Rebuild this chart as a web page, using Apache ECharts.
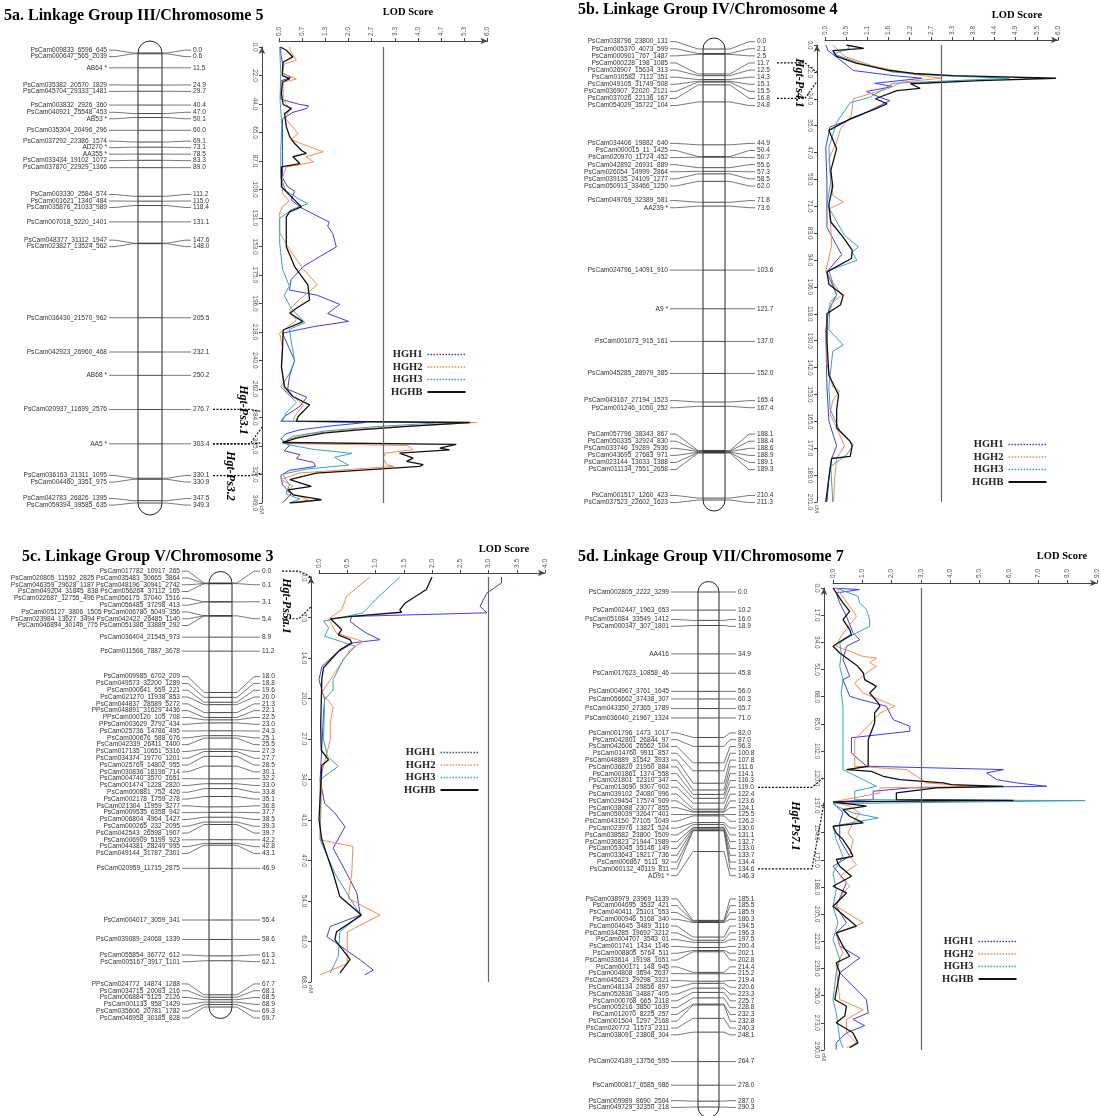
<!DOCTYPE html>
<html>
<head>
<meta charset="utf-8">
<script src="https://cdn.jsdelivr.net/npm/echarts/dist/echarts.min.js"></script>
<style>
  html, body { margin: 0; padding: 0; background: #fff; }
  #chart { width: 1101px; height: 1116px; }
</style>
</head>
<body>
<div id="chart"></div>
<script>
// LG III / Chr 5 (panel 5a)
const lgIIINames = ['PsCam009833_6596_645', 'PsCam000647_565_2039', 'AB64 *', 'PsCam035382_20570_1829', 'PsCam045704_29333_1481', 'PsCam003832_2926_360', 'PsCam040921_25548_453', 'AB53 *', 'PsCam035304_20496_296', 'PsCam037292_22386_1574', 'AD270 *', 'AA355 *', 'PsCam033434_19102_1072', 'PsCam037870_22929_1366', 'PsCam003330_2584_574', 'PsCam001621_1340_484', 'PsCam035876_21033_989', 'PsCam007018_5220_1401', 'PsCam048377_31112_1947', 'PsCam023827_13524_562', 'PsCam036430_21570_962', 'PsCam042923_26960_468', 'AB68 *', 'PsCam020937_11699_2576', 'AA5 *', 'PsCam036163_21311_1095', 'PsCam004460_3351_975', 'PsCam042783_26826_1395', 'PsCam059394_39585_635'];
const lgIIIPos = [0.0, 0.6, 11.5, 24.9, 29.7, 40.4, 47.0, 50.1, 60.0, 69.1, 73.1, 78.5, 83.3, 89.0, 111.2, 115.0, 118.4, 131.1, 147.6, 148.0, 205.5, 232.1, 250.2, 276.7, 303.4, 330.1, 330.9, 347.5, 349.3];
// LOD curves: [cM, LOD]
const lgIIIHGH1 = [[0,0.05],[5,0.05],[12,0.1],[20,0.1],[23,0.35],[26,0.05],[40,0.05],[44,0.6],[45,0.85],[47,0.8],[48.5,0.85],[50,0.4],[55,0.1],[80,0.1],[100,0.1],[107,0.25],[110.5,0.45],[117,0.35],[122.5,0.6],[128,1.0],[134,1.45],[137,1.4],[143,1.55],[153,1.65],[160,1.2],[168,0.7],[178,0.35],[186,0.3],[190,1.1],[197,1.75],[204,1.4],[210,2.0],[214,1.0],[219,0.1],[228,0.25],[240,0.45],[252,0.3],[262,0.25],[268,0.8],[275,0.6],[283,0.15],[286.4,0.05],[287.4,2.5],[290,1.5],[293,0.6],[296,0.2],[300,0.05],[305,0.3],[309,0.15],[312,0.6],[315,0.5],[318,1.0],[321,1.05],[324,0.3],[328,0.05],[335,0.1],[342,0.35],[349,0.1]];
const lgIIIHGH2 = [[0,0.3],[4,0.35],[10,0.5],[13,0.15],[20,0.1],[24.5,0.5],[27,0.12],[40,0.12],[47,0.3],[55,0.2],[66.3,0.55],[71,0.35],[80.2,1.27],[84,0.78],[88,1.0],[92,0.2],[100,0.1],[112,0.1],[118,0.3],[122,0.1],[127,0.02],[142,0.02],[155,0.3],[170,0.7],[182,1.1],[193,0.6],[201,0.3],[209,0.5],[219,0.02],[230,0.1],[245,0.07],[262,0.15],[274,0.7],[283,0.45],[286.4,0.4],[287.4,5.7],[290.5,3.4],[293,2.0],[296,0.9],[300,0.3],[303.5,0.15],[305,3.7],[308.3,3.85],[310.8,3.05],[314.6,3.0],[319.7,3.1],[321,3.3],[326,0.6],[331,0.05],[336,0.4],[340,0.2],[346.5,0.84],[349,0.5]];
const lgIIIHGH3 = [[0,0.02],[20,0.05],[40,0.03],[60,0.08],[80,0.05],[100,0.05],[110,0.2],[116,0.55],[120,0.83],[124,0.4],[131,0.02],[150,0.02],[170,0.1],[183,0.3],[190,0.15],[200,0.35],[211,0.75],[216,0.3],[225,0.35],[240,0.45],[250,0.3],[260,0.05],[272,0.5],[280,0.2],[286.4,0.1],[287.4,4.8],[290.5,2.8],[294,1.3],[298,0.4],[303,0.1],[305,0.4],[308,1.0],[311,2.1],[314,1.6],[317,1.8],[320,2.0],[323,0.8],[327,0.1],[335,0.3],[342,0.2],[346,0.6],[349,0.3]];
const lgIIIHGHB = [[0,0.04],[2.5,0.21],[7.6,0.4],[11.5,0.12],[17.8,0.1],[21.9,0.1],[24.2,0.31],[26.8,0.1],[35.7,0.07],[44,0.12],[47.1,0.36],[51,0.16],[61,0.21],[68.8,0.31],[73.9,0.45],[79,0.64],[81.5,0.79],[84,0.4],[89.2,0.6],[91.7,0.07],[107,0.07],[110.8,0.21],[117.2,0.45],[122.3,0.64],[126,0.31],[130,0.21],[140,0.21],[152.9,0.21],[168,0.45],[182,0.83],[193.6,0.88],[200,0.5],[203.8,0.31],[210.2,0.69],[216.6,0.12],[231.8,0.1],[244.6,0.07],[259.9,0.16],[267.5,0.4],[273.9,0.88],[282.8,0.55],[286.4,0.5],[287.4,5.49],[290.5,3.6],[293,2.3],[295.5,1.27],[299.4,0.5],[302.7,0.1],[304.2,5.1],[307,4.63],[308.3,4.91],[310.8,3.47],[314.6,3.86],[317.2,3.67],[319.7,4.15],[321,4.05],[326.1,1.07],[331.2,0.31],[336.3,0.93],[338.9,0.26],[342.7,0.4],[346.5,1.22],[349,0.31]];

// LG IV / Chr 4 (panel 5b)
const lgIVNames = ['PsCam038796_23800_131', 'PsCam005370_4073_599', 'PsCam000901_767_1487', 'PsCam000228_198_1085', 'PsCam026907_15634_313', 'PsCam010582_7112_351', 'PsCam049105_31749_508', 'PsCam036907_22020_2121', 'PsCam037026_22136_167', 'PsCam054029_35722_104', 'PsCam034406_19882_640', 'PsCam000015_11_1425', 'PsCam020970_11724_452', 'PsCam042892_26931_889', 'PsCam026054_14999_2864', 'PsCam039135_24109_1277', 'PsCam050913_33466_1250', 'PsCam049769_32389_581', 'AA239 *', 'PsCam024796_14091_910', 'A9 *', 'PsCam001073_915_161', 'PsCam045285_28979_385', 'PsCam043167_27194_1523', 'PsCam001246_1050_252', 'PsCam057796_38343_867', 'PsCam050335_32924_830', 'PsCam033746_19289_2936', 'PsCam043695_27683_971', 'PsCam023144_13033_1388', 'PsCam011134_7551_2658', 'PsCam001517_1260_423', 'PsCam037523_22602_1623'];
const lgIVPos = [0.0, 2.1, 2.5, 11.7, 12.5, 14.3, 15.1, 15.5, 16.8, 24.8, 44.9, 50.4, 50.7, 55.6, 57.3, 58.5, 62.0, 71.8, 73.6, 103.6, 121.7, 137.0, 152.0, 165.4, 167.4, 188.1, 188.4, 188.6, 188.9, 189.1, 189.3, 210.4, 211.3];
const lgIVHGH1 = [[0,0.02],[2.5,0.08],[6,0.35],[11.2,0.73],[13.5,1.8],[14.6,2.5],[16.8,1.28],[18.2,1.75],[20.4,1.07],[22.9,1.4],[24.4,1.67],[31,0.9],[36,0.13],[45,0.02],[60,0.05],[80,0.05],[88,0.3],[92,0.43],[99.6,0.05],[109.8,0.3],[116,0.1],[125,0.02],[150,0.05],[165,0.1],[176,0.3],[181.5,0.17],[190,0.1],[200.6,0.05]];
const lgIVHGH2 = [[0,0.2],[2.5,0.35],[5,0.5],[9,1.2],[12.7,2.2],[14.6,3.0],[16.2,2.0],[19.3,1.6],[21.5,1.15],[23.6,0.73],[31,0.68],[36.8,0.4],[42.6,0.3],[50,0.1],[60,0.15],[66,0.2],[69,0.47],[72,0.1],[80,0.15],[88,0.17],[99.6,0.02],[109.8,0.43],[113,0.2],[120,0.05],[140,0.05],[150,0.2],[152,0.38],[156,0.2],[162,0.13],[170,0.35],[176,0.5],[181.5,0.3],[190,0.25],[200.6,0.22]];
const lgIVHGH3 = [[0,0.6],[1.5,0.62],[3.9,0.22],[8,0.9],[11.9,1.75],[13.5,3.0],[14.6,4.75],[16.8,1.75],[19.5,1.5],[23,1.15],[25.3,0.65],[34,0.3],[45,0.1],[60,0.15],[70,0.05],[83.5,0.5],[88.6,0.86],[91,0.7],[94.5,0.82],[99,0.1],[109.8,0.3],[113,0.13],[125,0.1],[131.7,0.47],[134.5,0.2],[150,0.1],[160,0.13],[170,0.4],[175.5,0.73],[180,0.55],[185,0.15],[200.6,0.2]];
const lgIVHGHB = [[0,0.55],[1.5,1.0],[2.5,0.2],[5,0.3],[8,0.8],[11.2,1.67],[12.5,2.3],[13.4,3.3],[14.6,5.95],[15.6,3.99],[17,2.2],[19,2.45],[20,1.85],[23.6,1.3],[25.8,1.6],[28,1.3],[32,0.7],[37.5,0.1],[45.5,0.3],[55,0.15],[62,0.2],[70,0.1],[77.7,0.15],[84,0.45],[90,0.7],[93.7,0.68],[99.6,0.05],[105,0.1],[109.8,0.47],[114,0.4],[118,0.05],[130,0.05],[145,0.1],[153.6,0.35],[160,0.3],[168,0.3],[174,0.65],[176,0.7],[180.6,0.65],[181.5,0.17],[190,0.1],[200.6,0.02]];

// LG V / Chr 3 (panel 5c); markers sharing a position are listed row by row
const lgVNames = ['PsCam017782_10917_265', 'PsCam020805_11592_2825 PsCam035483_30665_3864', 'PsCam046359_29628_1187 PsCam048196_30941_2742', 'PsCam049204_31845_838 PsCam056264_37112_165', 'PsCam022687_12755_496 PsCam056175_37040_1516', 'PsCam056485_37298_413', 'PsCam005127_3806_1505 PsCam006780_5049_356', 'PsCam023984_13627_3494 PsCam042422_26485_1140', 'PsCam046894_30146_775 PsCam051386_33889_292', 'PsCam036404_21545_973', 'PsCam011566_7887_3678', 'PsCam009985_6702_209', 'PsCam049573_32200_1289', 'PsCam000641_559_221', 'PsCam021270_11938_853', 'PsCam044837_28589_5272', 'PPsCam048891_31629_4436', 'PPsCam000120_105_708', 'PPsCam003629_2792_434', 'PsCam025736_14786_495', 'PsCam000676_588_676', 'PsCam042339_26411_1400', 'PsCam017135_10651_5316', 'PsCam034374_19770_1201', 'PsCam025769_14802_955', 'PsCam030836_18196_714', 'PsCam004740_3570_1651', 'PsCam001474_1228_2820', 'PsCam000881_752_426', 'PsCam002178_1759_278', 'PsCam021304_11959_3277', 'PsCam009535_6358_942', 'PsCam006804_4964_1427', 'PsCam000265_232_2095', 'PsCam042543_26598_1907', 'PsCam006909_5199_923', 'PsCam044381_28249_995', 'PsCam049144_31787_2301', 'PsCam020959_11715_2875', 'PsCam004017_3059_341', 'PsCam039089_24068_1339', 'PsCam055854_36772_612', 'PsCam005167_3917_1101', 'PPsCam024772_14874_1288', 'PsCam034715_20083_216', 'PsCam006884_5125_2126', 'PsCam001133_958_1429', 'PsCam035606_20781_1782', 'PsCam046958_30185_828'];
const lgVPos = [0.0, 0.1, 0.1, 0.1, 3.1, 3.1, 5.4, 5.4, 5.4, 8.9, 11.2, 18.0, 18.8, 19.6, 20.0, 21.3, 22.1, 22.5, 23.0, 24.3, 25.1, 25.5, 27.3, 27.7, 28.5, 30.1, 32.2, 33.0, 33.8, 35.1, 36.8, 37.7, 38.5, 39.3, 39.7, 42.2, 42.8, 43.1, 46.9, 55.4, 58.6, 61.3, 62.1, 67.7, 68.1, 68.5, 68.9, 69.3, 69.7];
const lgVHGH1 = [[0,3.23],[1,3.23],[2.7,2.97],[4.9,2.85],[6,2.97],[6.6,0.58],[7.4,0.55],[8.3,0.67],[9.4,0.84],[10.5,1.08],[11,0.61],[12.7,0.31],[15,0.05],[17.2,0.0],[20.5,0.1],[22.8,0.08],[34,0.02],[37.9,0.1],[39.5,0.28],[41.8,0.46],[45.4,0.25],[49.6,0.49],[52.9,0.67],[56.6,0.73],[58.5,0.2],[60.2,0.14],[64.1,0.73],[65.8,0.96],[66.6,0.81]];
const lgVHGH2 = [[0,0.9],[3.2,0.49],[5.5,0.4],[7,0.17],[9.4,0.31],[10.8,0.78],[12.2,0.55],[17.2,0.2],[19.4,0.05],[21.7,0.25],[24.5,0.2],[27.2,0.2],[32.8,0.05],[44,0.02],[45.1,0.6],[49.6,0.58],[53.8,0.52],[56.6,1.08],[59.4,0.5],[64.7,0.5],[66.6,0.02]];
const lgVHGH3 = [[0,1.43],[3.8,1.0],[6,0.78],[7.4,0.08],[8.5,0.17],[9.9,0.1],[11.6,0.64],[13.8,0.43],[17.2,0.25],[18.9,0.25],[20.5,0.1],[27.2,0.08],[30,0.15],[31.7,0.34],[33.9,0.02],[44,0.02],[49.6,0.28],[56.6,0.73],[59.4,0.37],[63.5,0.34],[66.3,0.2]];
const lgVHGHB = [[0,2.0],[2.1,1.9],[4.4,1.52],[5.5,1.43],[5.9,1.46],[6.6,0.58],[7.0,0.2],[7.4,0.25],[8.8,0.4],[9.7,0.34],[10.5,0.55],[11,0.58],[12.2,0.37],[15.2,0.08],[17,0.05],[25,0.03],[29,0.04],[30.6,0.17],[31.5,0.05],[40.6,0.0],[44,0.05],[49.6,0.25],[53.5,0.37],[56.6,0.75],[59.4,0.31],[60.7,0.28],[64,0.55],[66.3,0.37]];

// LG VII / Chr 7 (panel 5d)
const lgVIINames = ['PsCam002805_2222_3299', 'PsCam002447_1963_653', 'PsCam051084_33549_1412', 'PsCam000347_307_1801', 'AA416', 'PsCam017623_10858_46', 'PsCam004967_3761_1645', 'PsCam056662_37438_307', 'PsCam043350_27365_1789', 'PsCam036040_21967_1324', 'PsCam001796_1473_1017', 'PsCam042801_26844_97', 'PsCam042606_26562_104', 'PsCam014760_9911_857', 'PsCam048889_31542_3933', 'PsCam036820_21950_884', 'PsCam001861_1374_558', 'PsCam021801_12310_347', 'PsCam013690_9307_902', 'PsCam039102_24080_996', 'PsCam029454_17574_909', 'PsCam038088_23077_855', 'PsCam050039_32647_401', 'PsCam043150_27105_1049', 'PsCam023976_13821_524', 'PsCam038582_23800_1509', 'PsCam036823_21944_1989', 'PsCam053045_35146_149', 'PsCam033643_19217_736', 'PsCam006867_5111_92', 'PsCam060132_40119_811', 'AD91 *', 'PsCam038979_23969_1139', 'PsCam004695_3532_421', 'PsCam040411_25101_553', 'PsCam000946_5168_340', 'PsCam004645_3489_3116', 'PsCam034285_19692_3212', 'PsCam004707_3543_01', 'PsCam001741_1434_1146', 'PsCam008805_5764_511', 'PsCam033614_19198_1651', 'PsCam000171_148_945', 'PsCam004808_3694_2637', 'PsCam045623_29298_3321', 'PsCam048134_29856_897', 'PsCam052836_34887_405', 'PsCam000768_665_2118', 'PsCam005216_3850_1639', 'PsCam012070_8225_257', 'PsCam001504_1297_2168', 'PsCam020772_11573_2311', 'PsCam038091_23808_304', 'PsCam024189_13756_595', 'PsCam000817_6585_986', 'PsCam009989_8690_2504', 'PsCam049729_32350_218'];
const lgVIIPos = [0.0, 10.2, 16.0, 18.9, 34.9, 45.8, 56.0, 60.3, 65.7, 71.0, 82.0, 87.0, 96.3, 100.8, 107.8, 111.6, 114.1, 116.3, 119.0, 122.4, 123.6, 124.1, 125.5, 126.2, 130.0, 131.1, 132.7, 133.0, 133.7, 134.4, 134.6, 146.3, 185.1, 185.5, 185.9, 186.3, 194.5, 196.3, 197.5, 200.4, 202.1, 202.8, 214.4, 215.2, 219.4, 220.6, 223.3, 225.7, 228.8, 232.3, 232.8, 240.3, 248.1, 264.7, 278.0, 287.0, 290.3];
const lgVIIHGH1 = [[0,0],[1,0.9],[3.1,0.11],[9.4,0.23],[17.8,0.46],[28,0.68],[32.5,0.91],[36.6,0.46],[45,0.34],[55.5,0.57],[57.6,0.34],[68,0.57],[70,0.91],[74.3,1.82],[82.7,2.05],[86.9,2.62],[90,2.62],[94.1,0.63],[103.6,0.63],[112,1.14],[114.1,5.81],[116.2,5.24],[120.4,5.58],[122.5,6.26],[124.6,7.29],[125.6,2.62],[127.7,1.37],[133,1.37],[134.4,0],[137.1,0.11],[141,0.34],[147.6,0.23],[158,0.23],[168.6,0.57],[174.8,0],[185.1,0.46],[200,0.11],[210.4,0.46],[216.7,0.11],[225,0.23],[232.4,0.91],[241.8,0.23],[258.6,1.14],[267,1.2],[271,0.68],[275,1.08],[279.5,0.46],[285.8,0.11],[290,0.11]];
const lgVIIHGH2 = [[0,0.11],[11.5,0.57],[17.8,0.8],[30,0.28],[36.6,0.11],[43,1.03],[44,1.48],[47,1.25],[49.2,1.48],[53.4,1.14],[59.7,0.74],[66,1.03],[74.3,2.11],[78.5,1.6],[85.8,1.25],[95.3,0.74],[112,0.74],[114.1,2.51],[118.3,2.85],[122.5,3.19],[124.6,4.78],[125.6,1.6],[128.8,1.6],[134.4,0],[137.1,0.57],[141.3,0.91],[147.6,0.68],[153.9,0.51],[158.1,0.68],[168.6,0.57],[173.8,0.8],[181.1,0.23],[187.4,0.57],[191.6,0.34],[200,0.11],[210.4,1.03],[216.7,0.11],[225,0.23],[229,0.34],[237.6,0.11],[258.6,0.23],[265,1.03],[271,0.46],[279.5,0.46],[285.8,0.8],[288.9,0.46]];
const lgVIIHGH3 = [[0,0.11],[5.2,0.85],[9.4,0.91],[13.6,1.14],[19.9,1.25],[24.1,1.25],[30.4,0.57],[34.5,0.23],[40.8,0.28],[49.2,0.23],[57.6,0.34],[66,0.28],[74.3,0.34],[95.3,0.34],[114.1,0.34],[116.2,0.57],[120.4,1.03],[124.6,1.48],[127.7,0.74],[133,0.74],[133.6,8.6],[135.5,0],[137.1,0.11],[141.3,0.68],[144.5,1.54],[149.7,0],[158.1,0.11],[168.6,0.34],[179,0],[189.6,0.11],[200,0],[210.4,0.17],[220.8,0],[233.3,0.23],[241.8,0.11],[258.6,0],[267,0.11],[275,0.17],[283.7,0.23],[288.9,0.34]];
const lgVIIHGHB = [[0,0],[3.1,0.11],[9.4,0.34],[14.7,0.57],[19.9,0.34],[26.2,0.57],[29.3,0.63],[32.5,0.34],[36.6,0],[40.8,0.23],[49.2,0.85],[53.4,1.03],[57.6,1.08],[61.8,1.48],[66,1.25],[72.2,1.54],[74.3,1.6],[78.5,1.42],[84.8,1.42],[95.3,1.2],[112,1.2],[114.1,0.46],[115.2,1.31],[118.3,1.71],[120.4,2.28],[122.5,3.76],[123.5,4.04],[124.6,5.81],[125.6,3.53],[128.8,2.16],[133,2.16],[133.4,6.15],[134.4,0],[137.1,1.14],[139.2,0.34],[143.4,0.57],[147.6,1.03],[149.7,0],[153.9,0.11],[158.1,0.34],[164.4,0.57],[168.6,0.68],[170.6,0.11],[174.8,0.23],[181.1,0.63],[187.4,0],[191.6,0.46],[200,0],[212.5,0.8],[216.7,0.11],[225.1,0.34],[231.4,0.57],[235.5,0.11],[241.8,0.23],[258.6,0.06],[262.8,0.46],[269,0.4],[273.2,0.11],[279.5,0.68],[285.8,0.85],[288.9,0.57]];

// axis scales for the four LOD plots (5a, 5b, 5c, 5d)
const lodMax = [6, 6, 4, 9];
const lodStep = [2 / 3, 6 / 11, 0.5, 1];
const cmMax = [349, 11.8 * 17, 6.78 * 10, 290.3];
const cmStep = [349 / 16, 11.8, 6.78, 290.3 / 17];
const thresholds = [3.0, 3.0, 3.0, 3.0];

const seriesNames = ['HGH1', 'HGH2', 'HGH3', 'HGHB'];
const seriesColors = ['#3d3df2', '#ff8a4c', '#3aa2c0', '#111111'];

// QTL intervals: chromosome markers and interval on the LOD scan
const qtlDefs = [
  { panel: 0, text: 'Hgt-Ps3.1', markers: [276.7, 303.4], interval: [279, 291], at: [243, 410] },
  { panel: 0, text: 'Hgt-Ps3.2', markers: [303.4, 330.1], interval: [303, 326], at: [230, 476] },
  { panel: 1, text: 'Hgt-Ps4.1', markers: [11.7, 16.8], interval: [12, 16], at: [799, 83] },
  { panel: 2, text: 'Hgt-Ps5a.1', markers: [0.0, 5.4], interval: [0, 5], at: [286, 606] },
  { panel: 3, text: 'Hgt-Ps7.1', markers: [119.0, 134.6], interval: [119, 135], at: [795, 826] }
];

const panels = [
  { title: '5a. Linkage Group III/Chromosome 5', titleAt: [4, 16], names: lgIIINames, pos: lgIIIPos,
    curves: [lgIIIHGH1, lgIIIHGH2, lgIIIHGH3, lgIIIHGHB],
    chrom: { left: 138, width: 24, top: 53, bottom: 503, labelRight: 107, posLeft: 193, gap: 6.5 },
    lod: { left: 279, top: 47, width: 208.5, height: 456, xOff: 6, yOff: 17 },
    lodTitleAt: [408, 12], legendAt: [391, 349] },
  { title: '5b. Linkage Group IV/Chromosome 4', titleAt: [578, 10], names: lgIVNames, pos: lgIVPos,
    curves: [lgIVHGH1, lgIVHGH2, lgIVHGH3, lgIVHGHB],
    chrom: { left: 703, width: 22, top: 49, bottom: 500, labelRight: 668, posLeft: 757, gap: 7.1 },
    lod: { left: 825, top: 45, width: 233, height: 457, xOff: 5, yOff: 8 },
    lodTitleAt: [1017, 15], legendAt: [972, 439] },
  { title: '5c. Linkage Group V/Chromosome 3', titleAt: [22, 557], names: lgVNames, pos: lgVPos,
    curves: [lgVHGH1, lgVHGH2, lgVHGH3, lgVHGHB],
    chrom: { left: 209, width: 23, top: 583, bottom: 1007, labelRight: 180, posLeft: 262, gap: 6.8 },
    lod: { left: 319, top: 577, width: 226, height: 405, xOff: 4, yOff: 8 },
    lodTitleAt: [504, 549], legendAt: [404, 747] },
  { title: '5d. Linkage Group VII/Chromosome 7', titleAt: [578, 557], names: lgVIINames, pos: lgVIIPos,
    curves: [lgVIIHGH1, lgVIIHGH2, lgVIIHGH3, lgVIIHGHB],
    chrom: { left: 698, width: 21, top: 592, bottom: 1107, labelRight: 669, posLeft: 738, gap: 6.8 },
    lod: { left: 833, top: 588, width: 264, height: 462, xOff: 5, yOff: 9 },
    lodTitleAt: [1062, 556], legendAt: [942, 936] }
];

const labelFont = '6.6px "Liberation Sans", Arial, sans-serif';
const layoutCache = [];

// push overlapping labels apart, keeping each cluster centred on its markers
function spreadLabels(ys, gap) {
  let cl = ys.map(y => ({ n: 1, sum: y }));
  let merged = true;
  while (merged) {
    merged = false;
    for (let i = 0; i < cl.length - 1; i++) {
      const a = cl[i], b = cl[i + 1];
      const aEnd = a.sum / a.n + gap * (a.n - 1) / 2;
      const bStart = b.sum / b.n - gap * (b.n - 1) / 2;
      if (bStart - aEnd < gap) {
        cl.splice(i, 2, { n: a.n + b.n, sum: a.sum + b.sum });
        merged = true;
        break;
      }
    }
  }
  const out = [];
  cl.forEach(c => {
    const start = c.sum / c.n - gap * (c.n - 1) / 2;
    for (let k = 0; k < c.n; k++) out.push(start + k * gap);
  });
  return out;
}

function txt(text, x, y, align, font, fill) {
  return { type: 'text', x: x, y: y, silent: true,
    style: { text: text, font: font, fill: fill || '#333', align: align, textAlign: align,
      verticalAlign: 'middle', textVerticalAlign: 'middle' } };
}

function chromoSeries(p, pn) {
  const c = pn.chrom, pos = pn.pos, names = pn.names;
  return {
    type: 'custom', xAxisIndex: 2 * p, yAxisIndex: 2 * p, silent: true, clip: false,
    data: [[0, 0]],
    renderItem: function (params, api) {
      const top = api.coord([0, 0]);
      const bot = api.coord([1, pos[pos.length - 1]]);
      const x0 = top[0], x1 = bot[0], w = x1 - x0, r = w / 2;
      const ys = pos.map(v => api.coord([0, v])[1]);
      const ly = spreadLabels(ys, c.gap);
      const children = [{
        type: 'rect', shape: { x: x0, y: top[1] - r, width: w, height: bot[1] - top[1] + 2 * r, r: r },
        style: { fill: '#fff', stroke: '#222', lineWidth: 1 }
      }];
      // group rows at the same position for the right-hand labels
      const groups = [];
      pos.forEach((v, i) => {
        const g = groups[groups.length - 1];
        if (g && g.pos === v) { g.rows.push(i); } else { groups.push({ pos: v, rows: [i] }); }
      });
      const cache = { posLeft: c.posLeft, y: {} };
      pos.forEach((v, i) => {
        children.push({ type: 'line', shape: { x1: x0, y1: ys[i], x2: x1, y2: ys[i] },
          style: { stroke: '#333', lineWidth: 0.9 } });
        children.push({ type: 'polyline',
          shape: { points: [[c.labelRight + 2, ly[i]], [c.labelRight + 8, ly[i]], [x0 - 5, ys[i]], [x0, ys[i]]] },
          style: { stroke: '#555', lineWidth: 0.8, fill: 'none' } });
        children.push(txt(names[i], c.labelRight, ly[i], 'right', labelFont));
      });
      groups.forEach(g => {
        const gy = g.rows.reduce((s, i) => s + ly[i], 0) / g.rows.length;
        const py = ys[g.rows[0]];
        cache.y[g.pos.toFixed(1)] = gy;
        children.push({ type: 'polyline',
          shape: { points: [[x1, py], [x1 + 5, py], [c.posLeft - 8, gy], [c.posLeft - 2, gy]] },
          style: { stroke: '#555', lineWidth: 0.8, fill: 'none' } });
        children.push(txt(g.pos.toFixed(1), c.posLeft, gy, 'left', labelFont));
      });
      layoutCache[p] = cache;
      return { type: 'group', children: children };
    }
  };
}

const option = { animation: false, backgroundColor: '#fff', grid: [], xAxis: [], yAxis: [], series: [], legend: [] };

panels.forEach((pn, p) => {
  const c = pn.chrom, l = pn.lod;
  option.grid.push({ left: c.left, top: c.top, width: c.width, height: c.bottom - c.top });
  option.grid.push({ left: l.left, top: l.top, width: l.width, height: l.height });
  option.xAxis.push({ gridIndex: 2 * p, type: 'value', min: 0, max: 1, show: false });
  option.yAxis.push({ gridIndex: 2 * p, type: 'value', min: 0, max: pn.pos[pn.pos.length - 1], inverse: true, show: false });
  option.xAxis.push({
    gridIndex: 2 * p + 1, type: 'value', position: 'top', min: 0, max: lodMax[p], interval: lodStep[p], offset: l.xOff,
    axisLine: { onZero: false, symbol: ['none', 'arrow'], symbolSize: [5, 7], lineStyle: { color: '#444', width: 1 } },
    axisTick: { length: 3, lineStyle: { color: '#444' } },
    axisLabel: { rotate: -90, fontSize: 6.5, color: '#555', margin: 5, fontFamily: 'Liberation Sans', formatter: v => v.toFixed(1) },
    splitLine: { show: false }
  });
  option.yAxis.push({
    gridIndex: 2 * p + 1, type: 'value', inverse: true, min: 0, max: cmMax[p], interval: cmStep[p], offset: l.yOff,
    axisLine: { onZero: false, symbol: ['none', 'arrow'], symbolSize: [5, 7], lineStyle: { color: '#444', width: 1 } },
    axisTick: { length: 3, lineStyle: { color: '#444' } },
    axisLabel: { rotate: -90, fontSize: 6.5, color: '#555', margin: 4, fontFamily: 'Liberation Sans', formatter: v => Math.round(v).toFixed(1) },
    splitLine: { show: false },
    name: 'cM', nameLocation: 'end', nameGap: 3, nameRotate: -90, nameTextStyle: { fontSize: 6, color: '#555' }
  });
  option.series.push(chromoSeries(p, pn));
  pn.curves.forEach((curve, k) => {
    const s = {
      type: 'line', name: seriesNames[k], xAxisIndex: 2 * p + 1, yAxisIndex: 2 * p + 1,
      data: curve.map(d => [d[1], d[0]]), symbol: 'none', silent: true,
      lineStyle: { color: seriesColors[k], width: k === 3 ? 1.3 : 1 },
      itemStyle: { color: seriesColors[k] }, z: k === 3 ? 4 : 3
    };
    if (k === 3) {
      s.markLine = { silent: true, symbol: 'none', label: { show: false },
        lineStyle: { color: '#666', width: 1.2, type: 'solid' }, data: [{ xAxis: thresholds[p] }] };
    }
    option.series.push(s);
  });
  option.legend.push({
    data: seriesNames.map((n, k) => ({ name: n,
      itemStyle: { opacity: 0 },
      lineStyle: { type: k === 3 ? 'solid' : 'dotted', width: k === 3 ? 2 : 1.5 } })),
    orient: 'vertical', left: pn.legendAt[0], top: pn.legendAt[1], align: 'right', selectedMode: false,
    itemWidth: 38, itemHeight: 8, itemGap: 1.5, padding: 0,
    textStyle: { fontFamily: 'Liberation Serif', fontSize: 10.5, fontWeight: 'bold', color: '#222' }
  });
});

const chart = echarts.init(document.getElementById('chart'), null, { renderer: 'canvas' });
chart.setOption(option);

// texts and QTL brackets, placed after the layout is known
const graphics = [];
panels.forEach((pn, p) => {
  graphics.push(txt(pn.title, pn.titleAt[0], pn.titleAt[1], 'left', 'bold 16px "Liberation Serif", serif', '#000'));
  graphics.push(txt('LOD Score', pn.lodTitleAt[0], pn.lodTitleAt[1], 'center', 'bold 10.5px "Liberation Serif", serif', '#000'));
});
qtlDefs.forEach(q => {
  const lc = layoutCache[q.panel];
  const pn = panels[q.panel];
  q.markers.forEach((m, i) => {
    const ly = lc ? lc.y[m.toFixed(1)] : null;
    if (ly == null) return;
    const pt = chart.convertToPixel({ xAxisIndex: 2 * q.panel + 1, yAxisIndex: 2 * q.panel + 1 }, [0, q.interval[i]]);
    graphics.push({ type: 'polyline', silent: true,
      shape: { points: [[lc.posLeft + 20, ly], [pt[0] - pn.lod.yOff - 12, ly], [pt[0] - pn.lod.yOff, pt[1]]] },
      style: { stroke: '#111', lineWidth: 1.2, lineDash: [2, 1.5], fill: 'none' } });
  });
  const t = txt(q.text, q.at[0], q.at[1], 'center', 'bold italic 12px "Liberation Serif", serif', '#000');
  t.rotation = -Math.PI / 2;
  graphics.push(t);
});
chart.setOption({ graphic: graphics });
</script>
</body>
</html>
